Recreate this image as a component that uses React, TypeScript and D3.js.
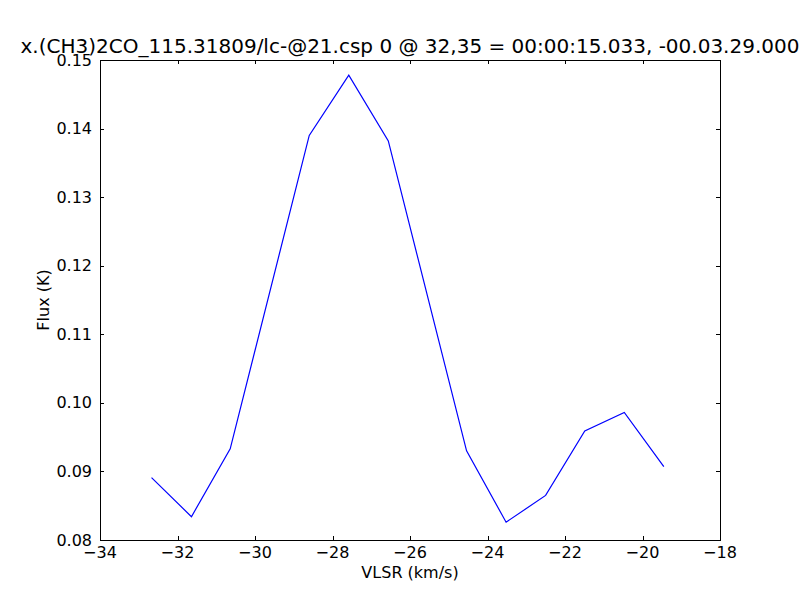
import React, { useEffect, useRef } from "react";
import * as d3 from "d3";

const width = 800;
const height = 600;
const margin = { top: 60, right: 80, bottom: 60, left: 100 };

const title = "x.(CH3)2CO_115.31809/lc-@21.csp 0 @ 32,35 = 00:00:15.033, -00.03.29.000";
const xLabel = "VLSR (km/s)";
const yLabel = "Flux (K)";

// channel velocities and fluxes
const velocity = [-32.67, -31.64, -30.64, -28.6, -27.58, -26.56, -24.54, -23.52, -22.5, -21.49, -20.47, -19.45];
const flux = [0.0891, 0.0834, 0.0933, 0.139, 0.1478, 0.1382, 0.093, 0.0826, 0.0865, 0.0959, 0.0986, 0.0907];

const xTicks = [-34, -32, -30, -28, -26, -24, -22, -20, -18];
const yTicks = [0.08, 0.09, 0.1, 0.11, 0.12, 0.13, 0.14, 0.15];

export default function App() {
  const ref = useRef<SVGSVGElement>(null);

  useEffect(() => {
    const svg = d3.select(ref.current);
    svg.selectAll("*").remove();

    const x = d3.scaleLinear().domain([-34, -18]).range([margin.left, width - margin.right]);
    const y = d3.scaleLinear().domain([0.08, 0.15]).range([height - margin.bottom, margin.top]);

    const font = "'DejaVu Sans', sans-serif";
    const fs = 16;

    svg.append("rect").attr("width", width).attr("height", height).attr("fill", "#fff");

    // line
    const pts = velocity.map((v, i) => [v, flux[i]] as [number, number]);
    svg
      .append("path")
      .datum(pts)
      .attr("fill", "none")
      .attr("stroke", "#0000ff")
      .attr("stroke-width", 1.2)
      .attr("d", d3.line<[number, number]>().x((d) => x(d[0])).y((d) => y(d[1])));

    const fmtX = (d: number) => String(d).replace("-", "\u2212");
    const fmtY = d3.format(".2f");

    // ticks, inward on all four sides
    const tk = svg.append("g").attr("stroke", "#000").attr("stroke-width", 1);
    xTicks.forEach((t) => {
      const px = Math.round(x(t)) + 0.5;
      tk.append("line").attr("x1", px).attr("x2", px).attr("y1", y(0.08)).attr("y2", y(0.08) - 4);
      tk.append("line").attr("x1", px).attr("x2", px).attr("y1", y(0.15)).attr("y2", y(0.15) + 4);
      svg
        .append("text")
        .attr("x", x(t))
        .attr("y", y(0.08) + 18)
        .attr("text-anchor", "middle")
        .attr("font-family", font)
        .attr("font-size", fs)
        .text(fmtX(t));
    });
    yTicks.forEach((t) => {
      const py = Math.round(y(t)) + 0.5;
      tk.append("line").attr("x1", x(-34)).attr("x2", x(-34) + 4).attr("y1", py).attr("y2", py);
      tk.append("line").attr("x1", x(-18)).attr("x2", x(-18) - 4).attr("y1", py).attr("y2", py);
      svg
        .append("text")
        .attr("x", x(-34) - 8)
        .attr("y", y(t))
        .attr("dy", "0.35em")
        .attr("text-anchor", "end")
        .attr("font-family", font)
        .attr("font-size", fs)
        .text(fmtY(t));
    });

    // frame
    svg
      .append("rect")
      .attr("x", margin.left + 0.5)
      .attr("y", margin.top + 0.5)
      .attr("width", width - margin.left - margin.right)
      .attr("height", height - margin.top - margin.bottom)
      .attr("fill", "none")
      .attr("stroke", "#000")
      .attr("stroke-width", 1);

    svg
      .append("text")
      .attr("x", (margin.left + width - margin.right) / 2)
      .attr("y", margin.top - 7)
      .attr("text-anchor", "middle")
      .attr("font-family", font)
      .attr("font-size", 20)
      .text(title);

    svg
      .append("text")
      .attr("x", (margin.left + width - margin.right) / 2)
      .attr("y", 578)
      .attr("text-anchor", "middle")
      .attr("font-family", font)
      .attr("font-size", fs)
      .text(xLabel);

    svg
      .append("text")
      .attr("transform", `translate(49,${(margin.top + height - margin.bottom) / 2}) rotate(-90)`)
      .attr("text-anchor", "middle")
      .attr("font-family", font)
      .attr("font-size", fs)
      .text(yLabel);
  }, []);

  return (
    <svg
      ref={ref}
      width={width}
      height={height}
      style={{ position: "absolute", left: 0, top: 0, display: "block" }}
    />
  );
}
